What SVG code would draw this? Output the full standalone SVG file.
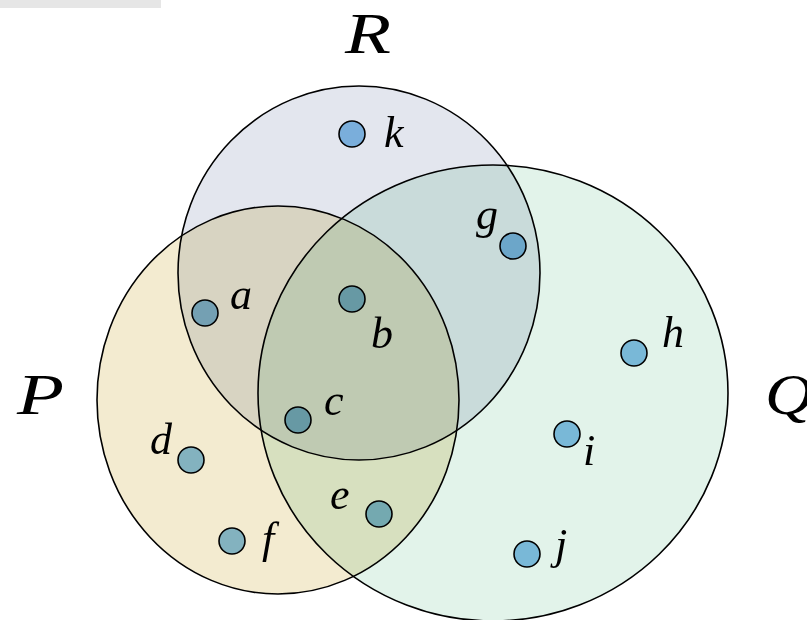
<svg xmlns="http://www.w3.org/2000/svg" width="807" height="620" viewBox="0 0 807 620">
<style>
.set{stroke:#000;stroke-width:1.6;mix-blend-mode:multiply}
.pt{fill:#89c1eb;stroke:#000;stroke-width:1.6;mix-blend-mode:multiply}
.lbl{font-family:"Liberation Serif","DejaVu Serif",serif;font-style:italic;font-size:44px;fill:#000}
.big{font-family:"Liberation Serif","DejaVu Serif",serif;font-style:italic;font-size:56px;fill:#000}
</style>
<rect x="0" y="0" width="161" height="8" fill="#e6e6e6"/>
<g id="set-P"><ellipse class="set" cx="278" cy="400" rx="181" ry="194" fill="#f3ebd0"/><text class="big" x="17" y="414" textLength="47" lengthAdjust="spacingAndGlyphs">P</text></g>
<g id="set-R"><ellipse class="set" cx="359" cy="273" rx="181" ry="187" fill="#e3e6ee"/><text class="big" x="345" y="53" textLength="46" lengthAdjust="spacingAndGlyphs">R</text></g>
<g id="set-Q"><ellipse class="set" cx="493" cy="393" rx="235" ry="228" fill="#e2f3ea"/><text class="big" x="765" y="414" textLength="48" lengthAdjust="spacingAndGlyphs">Q</text></g>
<g id="connectors"/>
<g id="pt-a"><circle class="pt" cx="205" cy="313" r="13"/><text class="lbl" x="230" y="309">a</text></g>
<g id="pt-b"><circle class="pt" cx="352" cy="299" r="13"/><text class="lbl" x="371" y="348">b</text></g>
<g id="pt-c"><circle class="pt" cx="298" cy="420" r="13"/><text class="lbl" x="324" y="415">c</text></g>
<g id="pt-d"><circle class="pt" cx="191" cy="460" r="13"/><text class="lbl" x="150" y="454">d</text></g>
<g id="pt-e"><circle class="pt" cx="379" cy="514" r="13"/><text class="lbl" x="330" y="509">e</text></g>
<g id="pt-f"><circle class="pt" cx="232" cy="541" r="13"/><text class="lbl" x="262" y="553">f</text></g>
<g id="pt-g"><circle class="pt" cx="513" cy="246" r="13"/><text class="lbl" x="476" y="229">g</text></g>
<g id="pt-h"><circle class="pt" cx="634" cy="353" r="13"/><text class="lbl" x="662" y="347">h</text></g>
<g id="pt-i"><circle class="pt" cx="567" cy="434" r="13"/><text class="lbl" x="583" y="465">i</text></g>
<g id="pt-j"><circle class="pt" cx="527" cy="554" r="13"/><text class="lbl" x="555" y="559">j</text></g>
<g id="pt-k"><circle class="pt" cx="352" cy="134" r="13"/><text class="lbl" x="384" y="147">k</text></g>
</svg>
